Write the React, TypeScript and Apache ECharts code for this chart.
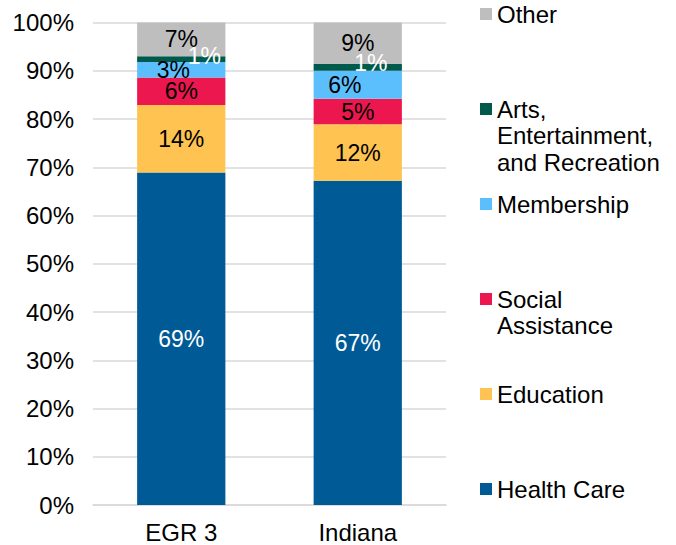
import React, { useEffect, useRef } from "react";
import * as echarts from "echarts";

const categories = ["EGR 3", "Indiana"];
const seriesNames = [
  "Health Care",
  "Education",
  "Social Assistance",
  "Membership",
  "Arts, Entertainment, and Recreation",
  "Other",
];
const healthCare = [68.9, 67.2];
const education = [14.0, 11.7];
const socialAssistance = [5.7, 5.3];
const membership = [3.2, 5.8];
const arts = [1.2, 1.4];
const other = [7.0, 8.6];
const seriesValues = [healthCare, education, socialAssistance, membership, arts, other];

const legendLabels: Record<string, string> = {
  "Health Care": "Health Care",
  Education: "Education",
  "Social Assistance": "Social\nAssistance",
  Membership: "Membership",
  "Arts, Entertainment, and Recreation": "Arts,\nEntertainment,\nand Recreation",
  Other: "Other",
};

const colors = ["#005A96", "#FEC351", "#ED174F", "#5CBFFD", "#005A4B", "#BEBEBE"];
const labelColors = ["#FFFFFF", "#000000", "#000000", "#000000", "#FFFFFF", "#000000"];
const labelOffsets: number[][][] = [
  [[0, 0], [0, 0]],
  [[0, 0], [0, 0]],
  [[0, 0], [0, 0]],
  [[-8, 0], [-13, 0]],
  [[23, -3], [13, -4]],
  [[0, 0], [0, 0]],
];

const FONT = "Liberation Sans, Arial, sans-serif";

export default function App() {
  const ref = useRef<HTMLDivElement>(null);
  useEffect(() => {
    if (!ref.current) return;
    const chart = echarts.init(ref.current, undefined, { renderer: "svg" });

    const series = seriesNames.map((name, si) => ({
      name,
      type: "bar",
      stack: "total",
      barWidth: "50%",
      itemStyle: { color: colors[si] },
      label: {
        show: true,
        position: "inside",
        color: labelColors[si],
        fontSize: 23,
        fontFamily: FONT,
        formatter: (p: any) => Math.round(p.value) + "%",
      },
      data: seriesValues[si].map((v, ci) => ({
        value: v,
        label: { offset: labelOffsets[si][ci] },
      })),
    }));

    const legendOrder = seriesNames.map((n, i) => i).reverse();
    const graphic: any[] = [];
    const lh = 26.5;
    legendOrder.forEach((si, k) => {
      const cy = 14 + k * 95;
      graphic.push({
        type: "rect",
        shape: { x: 480, y: cy - 6, width: 12, height: 12 },
        style: { fill: colors[si] },
      });
      graphic.push({
        type: "text",
        x: 497,
        y: cy - lh / 2,
        style: {
          text: legendLabels[seriesNames[si]],
          font: `24px ${FONT}`,
          fill: "#000000",
          lineHeight: lh,
          verticalAlign: "top",
          align: "left",
        },
      });
    });

    chart.setOption({
      animation: false,
      grid: { left: 93, right: 230, top: 22.5, bottom: 40, containLabel: false },
      xAxis: {
        type: "category",
        data: categories,
        axisTick: { show: false },
        axisLine: { lineStyle: { color: "#D9D9D9", width: 1.5 } },
        axisLabel: { color: "#000000", fontSize: 24, fontFamily: FONT, margin: 15 },
      },
      yAxis: {
        type: "value",
        min: 0,
        max: 100,
        interval: 10,
        axisLine: { show: false },
        axisTick: { show: false },
        splitLine: { lineStyle: { color: "#D9D9D9", width: 1.5 } },
        axisLabel: {
          color: "#000000",
          fontSize: 24,
          fontFamily: FONT,
          margin: 19,
          formatter: "{value}%",
        },
      },
      series,
      graphic,
    });
    return () => chart.dispose();
  }, []);
  return (
    <div
      ref={ref}
      style={{ position: "fixed", left: 0, top: 0, width: 676, height: 545, background: "#fff" }}
    />
  );
}
